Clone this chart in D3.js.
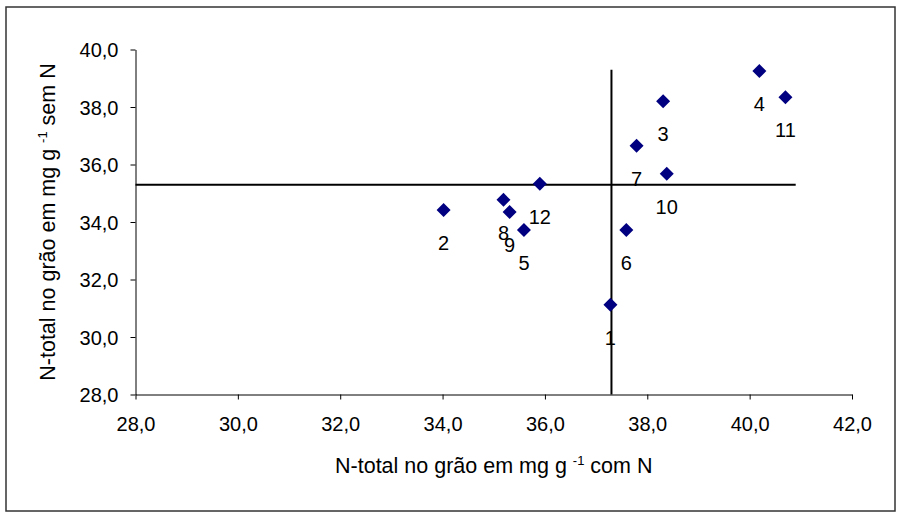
<!DOCTYPE html>
<html>
<head>
<meta charset="utf-8">
<script src="https://cdn.jsdelivr.net/npm/d3@7"></script>
<style>
  body { margin: 0; background: #fff; }
  svg text { font-family: Arial, "Liberation Sans", sans-serif; fill: #000; }
  .axis path, .axis line { stroke: #000; }
</style>
</head>
<body>
<div id="chart"></div>
<script>
// genotypes 1..12
const labels = ["1", "2", "3", "4", "5", "6", "7", "8", "9", "10", "11", "12"];
// N-total no grão com N (x) and sem N (y)
const comN = [37.28, 34.02, 38.31, 40.19, 35.59, 37.59, 37.79, 35.19, 35.31, 38.38, 40.70, 35.90];
const semN = [31.12, 34.42, 38.20, 39.25, 33.72, 33.72, 36.65, 34.77, 34.35, 35.68, 38.34, 35.33];
const xTicks = [28, 30, 32, 34, 36, 38, 40, 42];
const yTicks = [28, 30, 32, 34, 36, 38, 40];
// reference lines
const vLine = { x: 37.3, y0: 28, y1: 39.3 };
const hLine = { y: 35.3, x0: 28, x1: 40.9 };

const W = 897, H = 514;
const svg = d3.select("#chart").append("svg").attr("width", W).attr("height", H);

// outer frame
svg.append("rect")
  .attr("x", 6).attr("y", 7).attr("width", 889).attr("height", 504)
  .attr("fill", "none").attr("stroke", "#333").attr("stroke-width", 1.5);

const xScale = d3.scaleLinear().domain([28, 42]).range([135.5, 852]);
const yScale = d3.scaleLinear().domain([28, 40]).range([394.5, 49.5]);

const fmt = d3.formatLocale({ decimal: ",", thousands: ".", grouping: [3], currency: ["", ""] }).format(".1f");

const xAxis = d3.axisBottom(xScale).tickValues(xTicks).tickFormat(fmt).tickSize(5).tickSizeOuter(0);
const yAxis = d3.axisLeft(yScale).tickValues(yTicks).tickFormat(fmt).tickSize(5).tickSizeOuter(0);

const xg = svg.append("g").attr("class", "axis")
  .attr("transform", `translate(0,${yScale(28)})`).call(xAxis);
xg.selectAll("text").attr("font-size", 20).attr("dy", 0).attr("y", 36)
  .style("font-family", "Arial, 'Liberation Sans', sans-serif");

const yg = svg.append("g").attr("class", "axis")
  .attr("transform", `translate(${xScale(28)},0)`).call(yAxis);
yg.selectAll("text").attr("font-size", 20).attr("x", -17).attr("dy", "0.36em")
  .style("font-family", "Arial, 'Liberation Sans', sans-serif");

const data = labels.map((l, i) => ({ label: l, x: comN[i], y: semN[i] }));

// point labels
svg.append("g").selectAll("text").data(data).join("text")
  .attr("x", d => xScale(d.x))
  .attr("y", d => yScale(d.y) + 40)
  .attr("text-anchor", "middle")
  .attr("font-size", 20)
  .text(d => d.label);

// reference lines
svg.append("line")
  .attr("x1", xScale(vLine.x)).attr("x2", xScale(vLine.x))
  .attr("y1", yScale(vLine.y0)).attr("y2", yScale(vLine.y1))
  .attr("stroke", "#000").attr("stroke-width", 2);
svg.append("line")
  .attr("x1", xScale(hLine.x0)).attr("x2", xScale(hLine.x1))
  .attr("y1", yScale(hLine.y)).attr("y2", yScale(hLine.y))
  .attr("stroke", "#000").attr("stroke-width", 2);

// diamonds
svg.append("g").selectAll("path").data(data).join("path")
  .attr("transform", d => `translate(${xScale(d.x)},${yScale(d.y)})`)
  .attr("d", "M0,-7L7,0L0,7L-7,0Z")
  .attr("fill", "#000080");

// axis titles
const xt = svg.append("text")
  .attr("x", (xScale(28) + xScale(42)) / 2)
  .attr("y", 473)
  .attr("text-anchor", "middle")
  .attr("font-size", 21.5);
xt.append("tspan").text("N-total no grão em mg g ");
xt.append("tspan").attr("font-size", 13).attr("dy", -8).text("-1");
xt.append("tspan").attr("dy", 8).text(" com N");

const yt = svg.append("text")
  .attr("transform", `translate(55,${(yScale(28) + yScale(40)) / 2}) rotate(-90)`)
  .attr("text-anchor", "middle")
  .attr("font-size", 21.5);
yt.append("tspan").text("N-total no grão em mg g ");
yt.append("tspan").attr("font-size", 13).attr("dy", -8).text("-1");
yt.append("tspan").attr("dy", 8).text(" sem N");
</script>
</body>
</html>
